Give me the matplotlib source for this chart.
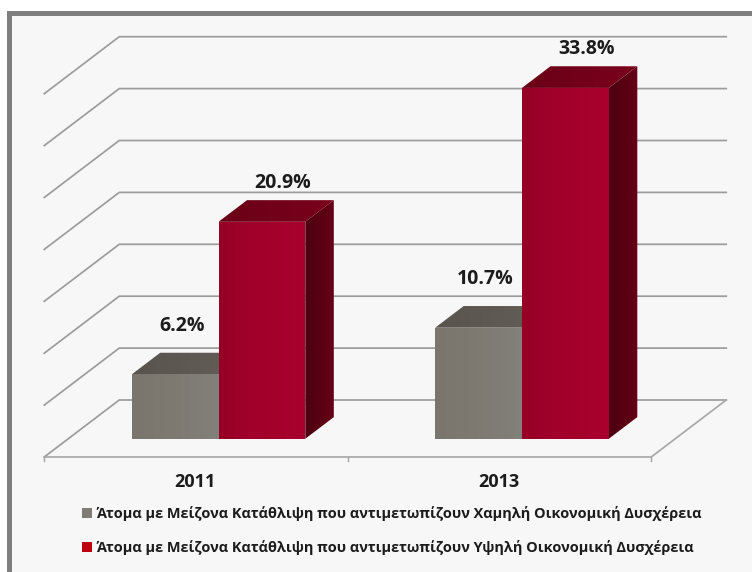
import matplotlib
matplotlib.use("Agg")
import matplotlib.pyplot as plt
import numpy as np
from matplotlib.colors import LinearSegmentedColormap
from matplotlib.patches import Patch, Polygon, Rectangle

plt.rcParams['font.family'] = ['Open Sans', 'DejaVu Sans']

years = ['2011', '2013']
low_values = [6.2, 10.7]
high_values = [20.9, 33.8]
low_label = 'Άτομα με Μείζονα Κατάθλιψη που αντιμετωπίζουν Χαμηλή Οικονομική Δυσχέρεια'
high_label = 'Άτομα με Μείζονα Κατάθλιψη που αντιμετωπίζουν Υψηλή Οικονομική Δυσχέρεια'
grid_values = [0, 5, 10, 15, 20, 25, 30, 35]

W, H = 752, 572
PX_X = 303.5    # pixels per category
PX_Y = 10.38    # pixels per percentage point
X0, Y0 = 196, 457   # pixel position of (first category, 0%) on the front edge

# oblique projection: full floor depth, in data units
DEPTH_X = 75 / PX_X
DEPTH_Y = 57 / PX_Y
BAR_W = 0.286
BAR_SHIFT = -1.5 / PX_X
D_FRONT, D_BACK = 0.32, 0.70


def proj(x, v, d=0.0):
    return x + d * DEPTH_X, v + d * DEPTH_Y


def shaded(ax, pts, colors, z):
    # polygon filled with a horizontal gradient
    poly = Polygon(pts, closed=True, fc='none', ec='none', zorder=z)
    ax.add_patch(poly)
    xs = [p[0] for p in pts]
    ys = [p[1] for p in pts]
    cmap = LinearSegmentedColormap.from_list('face', colors)
    im = ax.imshow(np.linspace(0, 1, 64)[None, :], cmap=cmap, aspect='auto',
                   extent=(min(xs), max(xs), min(ys), max(ys)), zorder=z)
    im.set_clip_path(poly)


def bar3d(ax, x0, v, front, top, side, z):
    x1 = x0 + BAR_W
    a = proj(x0, 0, D_FRONT)
    b = proj(x1, 0, D_FRONT)
    c = proj(x1, v, D_FRONT)
    d = proj(x0, v, D_FRONT)
    e = proj(x0, v, D_BACK)
    f = proj(x1, v, D_BACK)
    g = proj(x1, 0, D_BACK)
    shaded(ax, [b, g, f, c], side, z)
    shaded(ax, [d, c, f, e], top, z)
    shaded(ax, [a, b, c, d], front, z)


fig = plt.figure(figsize=(W / 100, H / 100), dpi=100, facecolor='white')
fig.add_artist(Rectangle((7 / W, 0), 1, 1 - 11 / H, transform=fig.transFigure,
                         fc='#7f7f7f', ec='none', zorder=-2))
fig.add_artist(Rectangle((12 / W, 0), 1, 1 - 16 / H, transform=fig.transFigure,
                         fc='#f7f7f7', ec='none', zorder=-1))

ax = fig.add_axes([0, 0, 1, 1])
ax.patch.set_alpha(0)
ax.axis('off')

# back wall and left wall gridlines
left, right = -0.5, 1.5
for v in grid_values:
    xa, ya = proj(left, v)
    xb, yb = proj(left, v, 1)
    xc, yc = proj(right, v, 1)
    ax.plot([xa, xb, xc], [ya, yb, yc], color='#9c9c9c', lw=1.25, zorder=1,
            solid_joinstyle='miter')

# floor front edge and its ticks
xa, ya = proj(left, 0)
xb, yb = proj(right, 0)
xc, yc = proj(right, 0, 1)
ax.plot([xa, xb, xc], [ya, yb, yc], color='#a8a8a8', lw=1.25, zorder=1)
for t in [left, 0.5, right]:
    ax.plot([t, t], [0, -4 / PX_Y], color='#a3a3a3', lw=1, zorder=1)

gray_front = ['#7a766e', '#7e7a72', '#82807a']
gray_top = ['#59554e', '#635f58']
red_front = ['#960025', '#a0002a', '#a4002b', '#aa002e']
red_top = ['#6a0016', '#7a001c']
red_side = ['#4c0010', '#660016']

for i, year in enumerate(years):
    bar3d(ax, i - BAR_W + BAR_SHIFT, low_values[i], gray_front, gray_top, gray_top, 3)
    bar3d(ax, i + BAR_SHIFT, high_values[i], red_front, red_top, red_side, 4)

    lx, ly = proj(i - BAR_W / 2, low_values[i], D_BACK)
    ax.annotate(f'{low_values[i]}%', (lx, ly), xytext=(-16.5, 19.5),
                textcoords='offset points', ha='center', va='center',
                fontsize=14, fontweight='bold', color='#1c1c1c', zorder=6)
    hx, hy = proj(i + BAR_W / 2, high_values[i], D_BACK)
    ax.annotate(f'{high_values[i]}%', (hx, hy), xytext=(-6.5, 12.5),
                textcoords='offset points', ha='center', va='center',
                fontsize=14, fontweight='bold', color='#1c1c1c', zorder=6)
    ax.annotate(year, (i, 0), xytext=(-0.5, -18), textcoords='offset points',
                ha='center', va='center', fontsize=13, fontweight='bold',
                color='#1c1c1c')

ax.set_xlim(-X0 / PX_X, (W - X0) / PX_X)
ax.set_ylim((Y0 - H) / PX_Y, Y0 / PX_Y)

handles = [Patch(fc='#7f7c75', ec='none', label=low_label),
           Patch(fc='#c00010', ec='none', label=high_label)]
ax.legend(handles=handles, loc='upper left', bbox_to_anchor=(69 / W, 1 - 493 / H),
          frameon=False, labelspacing=1.3, handlelength=0.72,
          handleheight=0.72, handletextpad=0.26, borderpad=0.4,
          prop={'size': 10.42, 'weight': 'bold'}, labelcolor='#1c1c1c')

fig.savefig('out.png', dpi=100)
